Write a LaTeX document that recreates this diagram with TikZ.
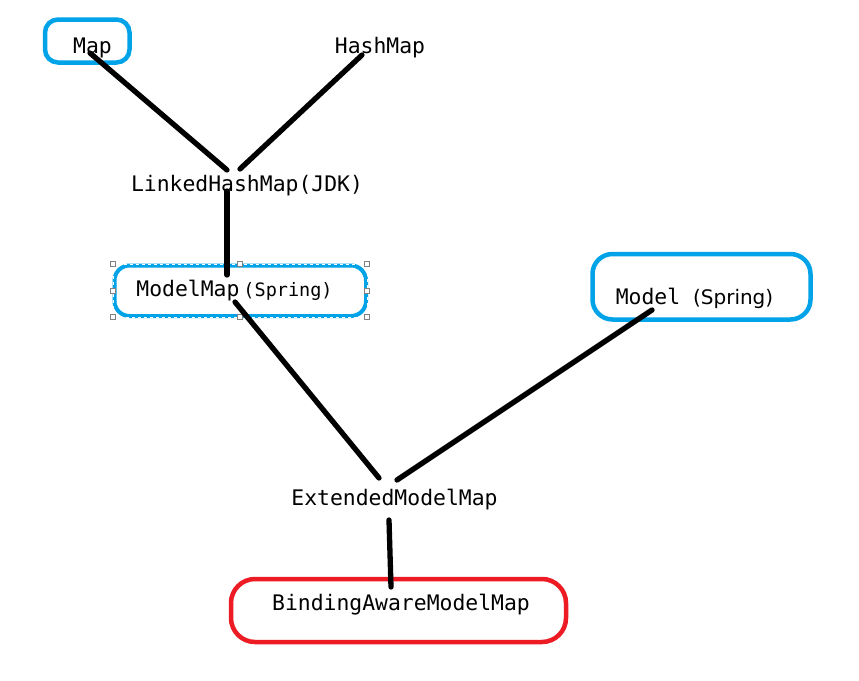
\documentclass[tikz,border=0pt]{standalone}
\usepackage{fontspec}
\setmonofont{DejaVu Sans Mono}
\newfontfamily\sansfont{DejaVu Sans}
\definecolor{paintblue}{RGB}{0,162,232}
\definecolor{paintred}{RGB}{237,28,36}
\begin{document}
\begin{tikzpicture}[x=1pt, y=-1pt,
    cls/.style={anchor=base, inner sep=0pt, font=\ttfamily\fontsize{21.4}{24}\selectfont},
    link/.style={line width=5.3pt, line cap=round, black},
    bluebox/.style={draw=paintblue, line width=4.5pt, rounded corners=13pt},
    redbox/.style={draw=paintred, line width=4.5pt, rounded corners=24pt},
    handle/.style={draw=gray, fill=white, line width=0.6pt}]
    
    \useasboundingbox (0,0) rectangle (859,680);
    
    % marked classes
    \draw [bluebox] (45,19.5) rectangle (129.5,62.5);
    \draw [bluebox, rounded corners=20pt] (592.5,254) rectangle (810.5,319.5);
    \draw [redbox] (231,579) rectangle (566,642);
    \draw [bluebox, line width=4pt, rounded corners=15pt] (114.5,265.5) rectangle (366,316);
    
    % selection frame
    \draw [white, line width=0.8pt, dash pattern=on 3pt off 3pt] (113,264) rectangle (367,317);
    \foreach \x in {113,240,367}
    {
        \draw [handle] (\x-2.5,264-2.5) rectangle (\x+2.5,264+2.5);
        \draw [handle] (\x-2.5,317-2.5) rectangle (\x+2.5,317+2.5);
    }
    \draw [handle] (110.5,288.5) rectangle (115.5,293.5);
    \draw [handle] (364.5,288.5) rectangle (369.5,293.5);
    
    \node [cls] (map) at (92.5,53) {Map};
    \node [cls] (hashmap) at (380,53) {HashMap};
    \node [cls] (lhm) at (247,191) {LinkedHashMap(JDK)};
    \node [cls] (modelmap) at (234.5,296) {ModelMap\hspace{4pt}{\fontsize{18.5}{20}\selectfont(Spring)}};
    \node [cls] (model) at (694.5,304) {Model {\sansfont\fontsize{20}{24}\selectfont(Spring)}};
    \node [cls] (extended) at (394.5,505) {ExtendedModelMap};
    \node [cls] (binding) at (401,610) {BindingAwareModelMap};
    
    \draw [link] ([shift={(-2.5,0)}]map.base) -- ([shift={(-20,-21)}]lhm.base);
    \draw [link] ([shift={(-18,2)}]hashmap.base) -- ([shift={(-7,-22)}]lhm.base);
    \draw [link] ([shift={(-20,0)}]lhm.base) -- ([shift={(-7.5,-21)}]modelmap.base);
    \draw [link] ([shift={(0.5,6)}]modelmap.base) -- ([shift={(-15.5,-27)}]extended.base);
    \draw [link] ([shift={(-42.5,6)}]model.base) -- ([shift={(2.5,-25)}]extended.base);
    \draw [link] ([shift={(-5.5,15)}]extended.base) -- ([shift={(-10,-23)}]binding.base);
    
\end{tikzpicture}
\end{document}
